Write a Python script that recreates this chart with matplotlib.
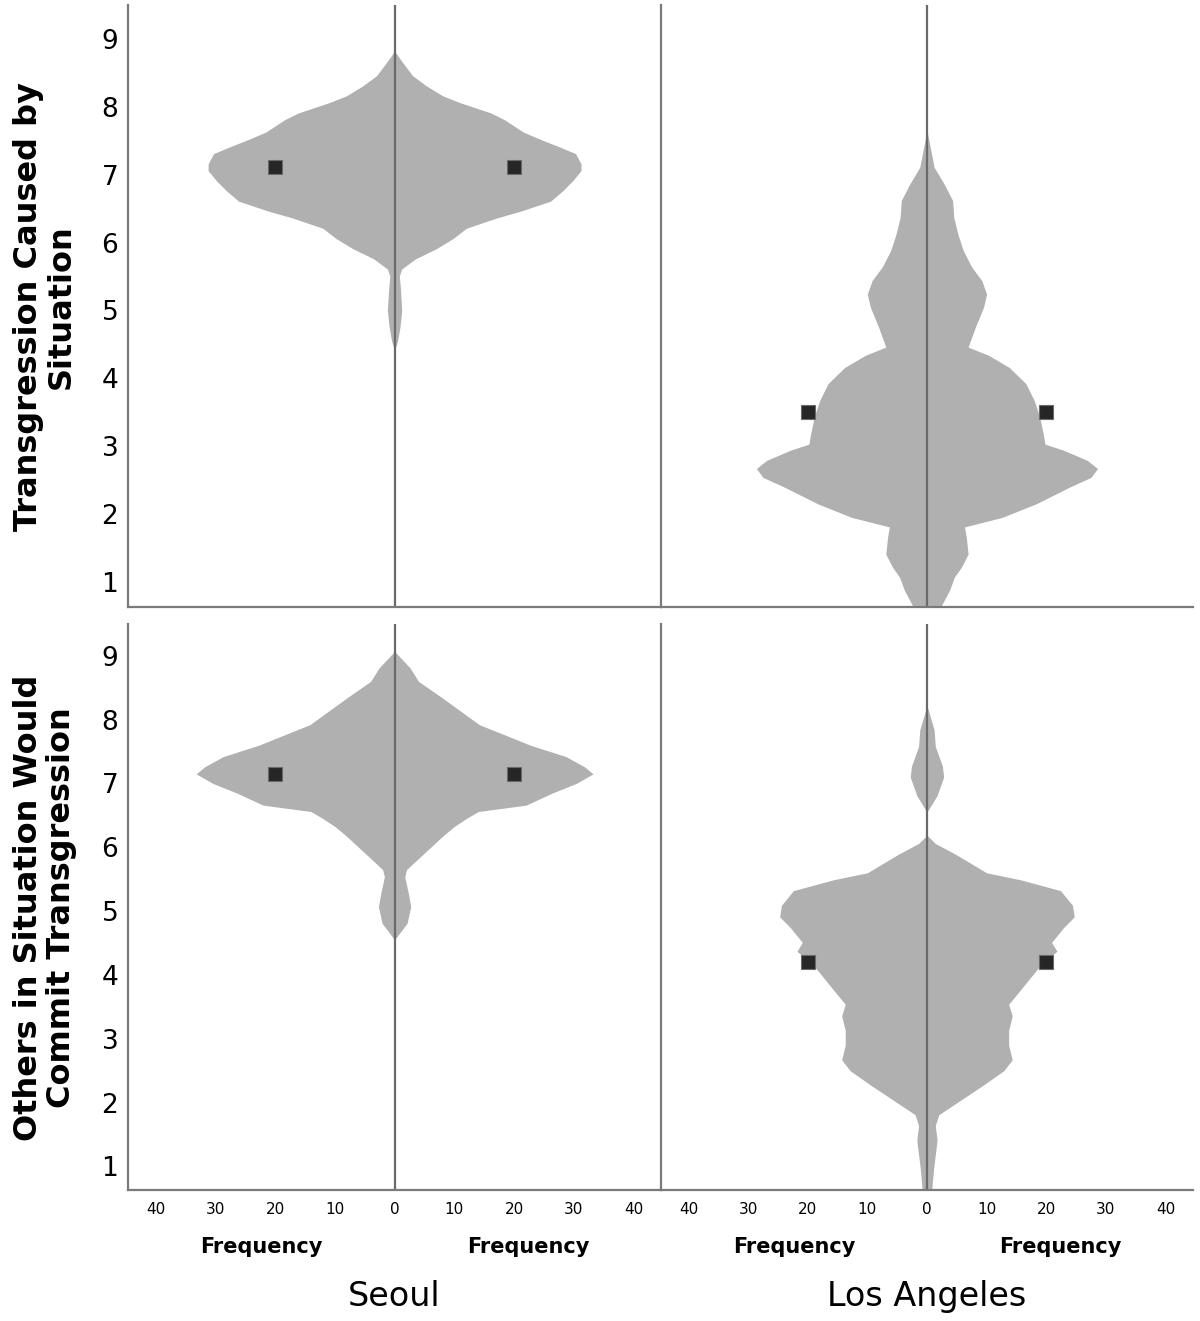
import matplotlib
matplotlib.use("Agg")
from matplotlib import pyplot as plt

# half-widths (frequency) of the mirrored distributions, read at each score level
seoul_cause_y = [8.82, 8.66, 8.46, 8.31, 8.16, 8.06, 7.91, 7.81, 7.63, 7.51, 7.41, 7.31, 7.16,
                 7.06, 6.91, 6.76, 6.61, 6.46, 6.36, 6.21, 6.06, 5.91, 5.76, 5.61, 5.51,
                 5.3, 5.0, 4.75, 4.55, 4.41]
seoul_cause_w = [0, 1.3, 3.0, 5.3, 8.1, 11.0, 16.1, 18.4, 21.5, 24.7, 27.6, 30.3, 31.2,
                 31.2, 29.8, 28.1, 26.1, 21.0, 17.0, 12.0, 9.8, 7.0, 3.5, 1.2, 0.8,
                 1.0, 1.2, 0.9, 0.5, 0]

la_cause_y = [7.65, 7.11, 6.86, 6.62, 6.37, 6.12, 5.88, 5.64, 5.44, 5.24, 5.05, 4.75, 4.46,
              4.34, 4.16, 3.92, 3.67, 3.43, 3.18, 3.03, 2.94, 2.79, 2.67, 2.54, 2.40, 2.15,
              1.95, 1.81, 1.66, 1.41, 1.22, 1.07, 0.88, 0.63]
la_cause_w = [0, 1.2, 2.9, 4.3, 4.5, 5.2, 6.1, 7.5, 9.2, 10.0, 9.5, 8.1, 6.9,
              10.3, 13.8, 16.6, 18.0, 18.9, 19.5, 19.8, 22.9, 26.9, 28.6, 27.5, 24.0, 18.3,
              12.6, 6.3, 6.6, 6.9, 5.8, 4.6, 3.8, 2.3]

seoul_others_y = [9.07, 8.81, 8.60, 8.36, 8.15, 7.92, 7.74, 7.60, 7.42, 7.26, 7.15, 7.0, 6.85,
                  6.66, 6.56, 6.45, 6.32, 6.17, 5.85, 5.65, 5.54, 5.28, 5.07, 4.81, 4.55]
seoul_others_w = [0, 2.6, 4.0, 7.7, 10.8, 14.2, 19.0, 22.7, 28.7, 31.8, 33.2, 30.4, 26.4,
                  22.0, 14.0, 12.0, 9.9, 8.0, 4.3, 2.0, 1.7, 2.3, 2.7, 2.1, 0]

la_others_y = [8.22, 7.84, 7.58, 7.27, 7.10, 6.81, 6.55, 6.18, 6.06, 5.89, 5.60, 5.49, 5.32,
               5.09, 4.91, 4.74, 4.51, 4.37, 4.17, 3.94, 3.71, 3.54, 3.36, 3.13, 2.90, 2.67,
               2.50, 2.27, 2.04, 1.81, 1.64, 1.41, 1.18, 0.95, 0.63]
la_others_w = [0, 1.2, 1.4, 2.6, 2.8, 1.7, 0, 0.1, 1.4, 4.8, 10.0, 15.7, 22.4,
               24.4, 24.7, 22.9, 20.9, 21.8, 19.2, 17.2, 15.2, 13.7, 14.3, 13.7, 13.7, 14.3,
               12.9, 9.4, 5.7, 2.0, 1.4, 1.7, 1.4, 1.1, 0.8]

# means shown as squares
means = {"seoul_cause": 7.12, "la_cause": 3.51, "seoul_others": 7.15, "la_others": 4.20}
mean_x = 20

xticks = [-40, -30, -20, -10, 0, 10, 20, 30, 40]
yticks = [1, 2, 3, 4, 5, 6, 7, 8, 9]

fig = plt.figure(figsize=(12, 13.21), dpi=100)

rects = [[0.1067, 0.5405, 0.4442, 0.4557], [0.5508, 0.5405, 0.4433, 0.4557],
         [0.1067, 0.0992, 0.4442, 0.4285], [0.5508, 0.0992, 0.4433, 0.4285]]
panels = [(seoul_cause_y, seoul_cause_w, means["seoul_cause"]),
          (la_cause_y, la_cause_w, means["la_cause"]),
          (seoul_others_y, seoul_others_w, means["seoul_others"]),
          (la_others_y, la_others_w, means["la_others"])]

axes = []
for i, (rect, (ys, ws, m)) in enumerate(zip(rects, panels)):
    ax = fig.add_axes(rect)
    axes.append(ax)
    ax.fill_betweenx(ys, [-w for w in ws], ws, color="#b0b0b0", lw=0, zorder=1)
    ax.axvline(0, color="#6a6a6a", lw=1.6, zorder=2)
    ax.plot([-mean_x, mean_x], [m, m], "s", ms=10.5, mfc="#262626", mec="#6a6a6a",
            mew=0.8, zorder=3)
    ax.set_xlim(-44.6, 44.6)
    ax.set_ylim(0.63, 9.5)
    ax.spines['top'].set_visible(False)
    ax.spines['right'].set_visible(False)
    for s in ['left', 'bottom']:
        ax.spines[s].set_color("#7a7a7a")
        ax.spines[s].set_linewidth(1.6)
    ax.set_xticks(xticks)
    ax.set_xticklabels([str(abs(t)) for t in xticks])
    ax.set_yticks(yticks)
    ax.tick_params(axis='x', length=0, pad=9, labelsize=11)
    ax.tick_params(axis='y', length=0, pad=7, labelsize=19)
    if i < 2:
        ax.tick_params(axis='x', labelbottom=False)
    if i % 2 == 1:
        ax.tick_params(axis='y', labelleft=False)

# "Frequency" under each half of the bottom panels
for ax in axes[2:]:
    ax.text(0.25, -0.1007, "Frequency", transform=ax.transAxes, ha='center', va='center',
            fontsize=15, fontweight='bold')
    ax.text(0.75, -0.1007, "Frequency", transform=ax.transAxes, ha='center', va='center',
            fontsize=15, fontweight='bold')

fig.text(0.3288, 0.0189, "Seoul", ha='center', va='center', fontsize=24)
fig.text(0.7725, 0.0189, "Los Angeles", ha='center', va='center', fontsize=24)

fig.text(0.0375, 0.768, "Transgression Caused by\nSituation", rotation=90, ha='center',
         va='center', fontsize=23, fontweight='bold', linespacing=1.1, multialignment='center')
fig.text(0.0375, 0.313, "Others in Situation Would\nCommit Transgression", rotation=90,
         ha='center', va='center', fontsize=23, fontweight='bold', linespacing=1.1,
         multialignment='center')

fig.savefig("out.png", dpi=100)
